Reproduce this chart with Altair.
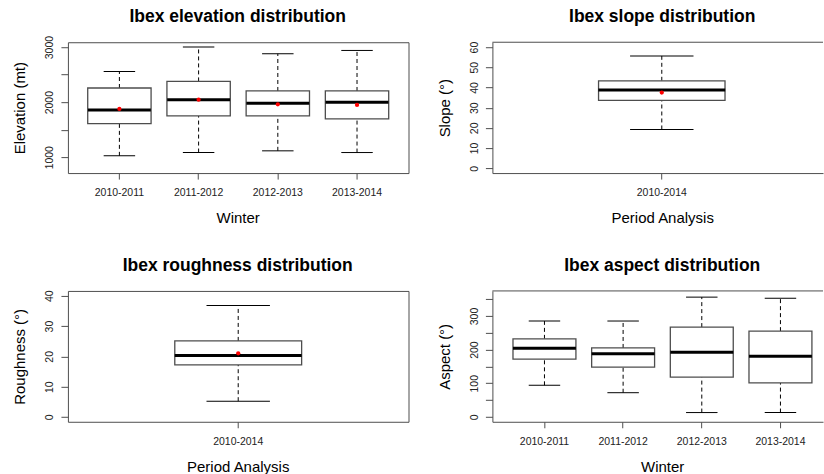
import altair as alt
import pandas as pd

FONT = "Liberation Sans"
FRAME = "#4d4d4d"
PANEL_H = 131

# Elevation by winter
winters = ["2010-2011", "2011-2012", "2012-2013", "2013-2014"]
elev_min = [1025, 1085, 1116, 1085]
elev_q1 = [1611, 1750, 1750, 1696]
elev_med = [1859, 2045, 1978, 1996]
elev_q3 = [2257, 2377, 2203, 2203]
elev_max = [2558, 3000, 2879, 2939]
elev_mean = [1877, 2045, 1960, 1949]

# Slope, whole period
period = ["2010-2014"]
slope_min = [19.2]
slope_q1 = [33.6]
slope_med = [38.7]
slope_q3 = [43.3]
slope_max = [55.6]
slope_mean = [37.5]

# Roughness, whole period
rough_min = [5.2]
rough_q1 = [17.2]
rough_med = [20.3]
rough_q3 = [25.1]
rough_max = [36.8]
rough_mean = [21.0]

# Aspect by winter (no mean marker)
asp_min = [94, 72, 13, 13]
asp_q1 = [172, 148, 118, 101]
asp_med = [204, 188, 192, 180]
asp_q3 = [232, 205, 267, 255]
asp_max = [285, 285, 356, 353]


def frame(groups, lo, q1, med, q3, hi, mean=None):
    d = pd.DataFrame({"group": groups, "lo": lo, "q1": q1, "med": med,
                      "q3": q3, "hi": hi})
    if mean is not None:
        d["mean"] = mean
    return d


def boxpanel(df, title, ytitle, xtitle, ydomain, yticks, ylabel_expr,
             width, center, pad_outer, align, box_w, framed):
    xscale = alt.Scale(paddingInner=0.2, paddingOuter=pad_outer, align=align)
    x = alt.X("group:N", sort=None, title=xtitle, scale=xscale,
              axis=alt.Axis(labelAngle=0, domain=not framed, domainColor=FRAME,
                            ticks=True, tickSize=6, tickColor=FRAME,
                            labelBaseline="alphabetic", labelPadding=16.5,
                            titleX=center, titleY=49.4,
                            titleBaseline="alphabetic", titleAlign="center"))
    yaxis = alt.Axis(values=yticks, labelExpr=ylabel_expr, format="d",
                     labelAngle=270, labelAlign="center",
                     labelBaseline="alphabetic", labelOverlap=False,
                     domain=not framed, domainColor=FRAME,
                     tickSize=7, tickColor=FRAME, labelPadding=8,
                     titleAngle=270, titleX=-43, titleY=PANEL_H / 2,
                     titleAlign="center", titleBaseline="alphabetic")
    yscale = alt.Scale(domain=ydomain, nice=False, zero=False)

    def Y(field):
        return alt.Y(f"{field}:Q", scale=yscale, axis=yaxis, title=ytitle)

    base = alt.Chart(df).encode(x=x)
    upper = base.mark_rule(color="black", strokeDash=[4, 3]).encode(
        y=Y("q3"), y2="hi")
    lower = base.mark_rule(color="black", strokeDash=[4, 3]).encode(
        y=Y("lo"), y2="q1")
    cap_hi = base.mark_tick(orient="horizontal", color="black", thickness=1,
                            size=box_w / 2, opacity=1).encode(y=Y("hi"))
    cap_lo = base.mark_tick(orient="horizontal", color="black", thickness=1,
                            size=box_w / 2, opacity=1).encode(y=Y("lo"))
    box = base.mark_bar(fill="white", stroke=FRAME, strokeWidth=1.3).encode(
        y=Y("q1"), y2="q3")
    median = base.mark_tick(orient="horizontal", color="black", thickness=3,
                            size=box_w, opacity=1).encode(y=Y("med"))
    heading = alt.Chart(pd.DataFrame({"t": [title]})).mark_text(
        font=FONT, fontSize=17.5, fontWeight="bold", color="black",
        align="center", baseline="alphabetic"
    ).encode(text="t:N", x=alt.value(center), y=alt.value(-20))
    layers = [upper, lower, cap_hi, cap_lo, box, median]
    if "mean" in df.columns:
        layers.append(base.mark_point(filled=True, color="red", size=18,
                                      opacity=1).encode(y=Y("mean")))
    if not framed:
        # open frame: top edge only, left/bottom come from the axis lines
        layers.append(alt.Chart(pd.DataFrame({"t": [0]})).mark_rule(
            color=FRAME).encode(x=alt.value(0), x2=alt.value(width),
                                y=alt.value(0)))
    layers.append(heading)
    props = dict(width=width, height=PANEL_H)
    if not framed:
        props["view"] = alt.ViewBackground(stroke=None)
    return alt.layer(*layers).properties(**props)


p1 = boxpanel(frame(winters, elev_min, elev_q1, elev_med, elev_q3, elev_max,
                    elev_mean),
              "Ibex elevation distribution", "Elevation (mt)", "Winter",
              [712, 3088], [1000, 1500, 2000, 2500, 3000],
              "datum.value % 1000 == 0 ? datum.label : ''",
              341, 170, 0.25, 0.5, 63, True)
p2 = boxpanel(frame(period, slope_min, slope_q1, slope_med, slope_q3,
                    slope_max, slope_mean),
              "Ibex slope distribution", "Slope (°)", "Period Analysis",
              [-2.4, 62.4], [0, 10, 20, 30, 40, 50, 60], "datum.label",
              331, 170, 0.6457, 0.52, 127, False)
p3 = boxpanel(frame(period, rough_min, rough_q1, rough_med, rough_q3,
                    rough_max, rough_mean),
              "Ibex roughness distribution", "Roughness (°)",
              "Period Analysis",
              [-1.6, 41.6], [0, 10, 20, 30, 40], "datum.label",
              341, 170, 0.674, 0.5, 127, True)
p4 = boxpanel(frame(winters, asp_min, asp_q1, asp_med, asp_q3, asp_max),
              "Ibex aspect distribution", "Aspect (°)", "Winter",
              [-14.4, 374.4], [0, 50, 100, 150, 200, 250, 300, 350],
              "datum.value % 100 == 0 ? datum.label : ''",
              331, 170, 0.2013, 0.65, 63, False)

chart = alt.concat(p1, p2, p3, p4, columns=2,
                   spacing={"row": 118, "column": 84}, bounds="flush").properties(
    padding={"left": 12, "top": 7, "right": 0, "bottom": 0},
    background="white"
).configure_view(stroke=FRAME, strokeWidth=1).configure_axis(
    grid=False, labelFont=FONT, labelFontSize=10.5, labelColor="#222",
    titleFont=FONT, titleFontSize=15, titleFontWeight="normal",
    titleColor="black"
)

chart.save("out.html", embed_options={"renderer": "svg", "actions": False})
